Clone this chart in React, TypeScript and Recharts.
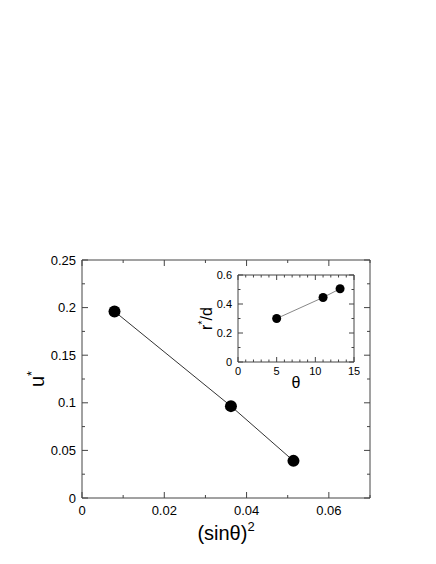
import { ScatterChart, Scatter, XAxis, YAxis } from 'recharts'

// main panel: u* against (sin theta)^2
const sinSq = [0.0079, 0.0362, 0.0514]
const uStar = [0.196, 0.0965, 0.039]

// inset: r*/d against theta
const theta = [5, 11, 13.2]
const rOverD = [0.3, 0.445, 0.505]

const mainXTicks = [0, 0.01, 0.02, 0.03, 0.04, 0.05, 0.06, 0.07]
const mainXLabels = ['0', '', '0.02', '', '0.04', '', '0.06', '']
const mainYTicks = [0, 0.025, 0.05, 0.075, 0.1, 0.125, 0.15, 0.175, 0.2, 0.225, 0.25]
const mainYLabels = ['0', '', '0.05', '', '0.1', '', '0.15', '', '0.2', '', '0.25']

const insetXTicks = [0, 1, 2, 3, 4, 5, 6, 7, 8, 9, 10, 11, 12, 13, 14, 15]
const insetXLabels = ['0', '', '', '', '', '5', '', '', '', '', '10', '', '', '', '', '15']
const insetYTicks = [0, 0.1, 0.2, 0.3, 0.4, 0.5, 0.6]
const insetYLabels = ['0', '', '0.2', '', '0.4', '', '0.6']

const mainData = sinSq.map((x, i) => ({ x, y: uStar[i] }))
const insetData = theta.map((x, i) => ({ x, y: rOverD[i] }))

const FONT = 'Liberation Sans, Arial, sans-serif'

// ticks drawn inward, labels outside
function makeTick(side: string, labels: string[], len: number, fontSize: number, gap: number, showText: boolean) {
  return (p: any) => {
    const { x, y, index } = p
    const label = labels[index] ?? ''
    const l = label !== '' ? len : len / 2
    let line
    if (side === 'bottom') line = <line x1={x} y1={y} x2={x} y2={y - l} />
    else if (side === 'top') line = <line x1={x} y1={y} x2={x} y2={y + l} />
    else if (side === 'left') line = <line x1={x} y1={y} x2={x + l} y2={y} />
    else line = <line x1={x} y1={y} x2={x - l} y2={y} />
    return (
      <g>
        <g stroke="#444" strokeWidth={1}>{line}</g>
        {showText && label !== '' && side === 'bottom' && (
          <text x={x} y={y + gap} dy="0.71em" textAnchor="middle" fontSize={fontSize} fontFamily={FONT} fill="#000">
            {label}
          </text>
        )}
        {showText && label !== '' && side === 'left' && (
          <text x={x - gap} y={y} dy="0.355em" textAnchor="end" fontSize={fontSize} fontFamily={FONT} fill="#000">
            {label}
          </text>
        )}
      </g>
    )
  }
}

const dot = (r: number) => (p: any) => <circle cx={p.cx} cy={p.cy} r={r} fill="#000" />
const noDot = () => <g />

const frame = { stroke: '#444', strokeWidth: 1 }

export default function App() {
  return (
    <div style={{ position: 'absolute', left: 0, top: 0, width: 436, height: 564, background: '#fff' }}>
      <div style={{ position: 'absolute', left: 0, top: 0 }}>
        <ScatterChart width={436} height={564} margin={{ top: 259, right: 65, bottom: 26, left: 32 }}>
          <XAxis
            type="number"
            dataKey="x"
            xAxisId="b"
            domain={[0, 0.07]}
            ticks={mainXTicks}
            interval={0}
            allowDataOverflow
            height={40}
            tickSize={0}
            tickMargin={0}
            axisLine={frame}
            tick={makeTick('bottom', mainXLabels, 6, 13, 8, true)}
            label={(lp: any) => {
              const vb = lp.viewBox
              return (
                <text x={vb.x + vb.width / 2} y={vb.y + 42} textAnchor="middle" fontSize={20} fontFamily={FONT} fill="#000">
                  (sinθ)<tspan dy={-9} fontSize={13}>2</tspan>
                </text>
              )
            }}
          />
          <XAxis
            type="number"
            dataKey="x"
            xAxisId="t"
            orientation="top"
            domain={[0, 0.07]}
            ticks={mainXTicks}
            interval={0}
            allowDataOverflow
            height={1}
            tickSize={0}
            tickMargin={0}
            axisLine={frame}
            tick={makeTick('top', mainXLabels, 6, 13, 8, false)}
          />
          <YAxis
            type="number"
            dataKey="y"
            yAxisId="l"
            domain={[0, 0.25]}
            ticks={mainYTicks}
            interval={0}
            allowDataOverflow
            width={50}
            tickSize={0}
            tickMargin={0}
            axisLine={frame}
            tick={makeTick('left', mainYLabels, 6, 13, 6, true)}
            label={(lp: any) => {
              const vb = lp.viewBox
              const cx = vb.x + 12
              const cy = vb.y + vb.height / 2
              return (
                <text x={cx} y={cy} transform={`rotate(-90, ${cx}, ${cy})`} textAnchor="middle" fontSize={20} fontFamily={FONT} fill="#000">
                  u<tspan dy={-8} fontSize={13}>*</tspan>
                </text>
              )
            }}
          />
          <YAxis
            type="number"
            dataKey="y"
            yAxisId="r"
            orientation="right"
            domain={[0, 0.25]}
            ticks={mainYTicks}
            interval={0}
            allowDataOverflow
            width={1}
            tickSize={0}
            tickMargin={0}
            axisLine={frame}
            tick={makeTick('right', mainYLabels, 6, 13, 6, false)}
          />
          <Scatter
            data={mainData}
            xAxisId="b"
            yAxisId="l"
            line={{ stroke: '#333', strokeWidth: 1 }}
            shape={dot(6)}
            isAnimationActive={false}
          />
          <Scatter data={mainData} xAxisId="t" yAxisId="r" shape={noDot} isAnimationActive={false} />
        </ScatterChart>
      </div>
      <div style={{ position: 'absolute', left: 190, top: 262 }}>
        <ScatterChart width={170} height={130} margin={{ top: 12, right: 5, bottom: 0, left: 18 }}>
          <XAxis
            type="number"
            dataKey="x"
            xAxisId="b"
            domain={[0, 15]}
            ticks={insetXTicks}
            interval={0}
            allowDataOverflow
            height={30}
            tickSize={0}
            tickMargin={0}
            axisLine={frame}
            tick={makeTick('bottom', insetXLabels, 5, 11, 5, true)}
            label={(lp: any) => {
              const vb = lp.viewBox
              return (
                <text x={vb.x + vb.width / 2} y={vb.y + 26} textAnchor="middle" fontSize={16} fontFamily={FONT} fill="#000">
                  θ
                </text>
              )
            }}
          />
          <XAxis
            type="number"
            dataKey="x"
            xAxisId="t"
            orientation="top"
            domain={[0, 15]}
            ticks={insetXTicks}
            interval={0}
            allowDataOverflow
            height={1}
            tickSize={0}
            tickMargin={0}
            axisLine={frame}
            tick={makeTick('top', insetXLabels, 5, 11, 5, false)}
          />
          <YAxis
            type="number"
            dataKey="y"
            yAxisId="l"
            domain={[0, 0.6]}
            ticks={insetYTicks}
            interval={0}
            allowDataOverflow
            width={30}
            tickSize={0}
            tickMargin={0}
            axisLine={frame}
            tick={makeTick('left', insetYLabels, 5, 11, 6, true)}
            label={(lp: any) => {
              const vb = lp.viewBox
              const cx = vb.x + 4
              const cy = vb.y + vb.height / 2
              return (
                <text x={cx} y={cy} transform={`rotate(-90, ${cx}, ${cy})`} textAnchor="middle" fontSize={16} fontFamily={FONT} fill="#000">
                  r<tspan dy={-6} fontSize={11}>*</tspan><tspan dy={6}>/d</tspan>
                </text>
              )
            }}
          />
          <YAxis
            type="number"
            dataKey="y"
            yAxisId="r"
            orientation="right"
            domain={[0, 0.6]}
            ticks={insetYTicks}
            interval={0}
            allowDataOverflow
            width={1}
            tickSize={0}
            tickMargin={0}
            axisLine={frame}
            tick={makeTick('right', insetYLabels, 5, 11, 6, false)}
          />
          <Scatter
            data={insetData}
            xAxisId="b"
            yAxisId="l"
            line={{ stroke: '#888', strokeWidth: 1 }}
            shape={dot(4.5)}
            isAnimationActive={false}
          />
          <Scatter data={insetData} xAxisId="t" yAxisId="r" shape={noDot} isAnimationActive={false} />
        </ScatterChart>
      </div>
    </div>
  )
}
